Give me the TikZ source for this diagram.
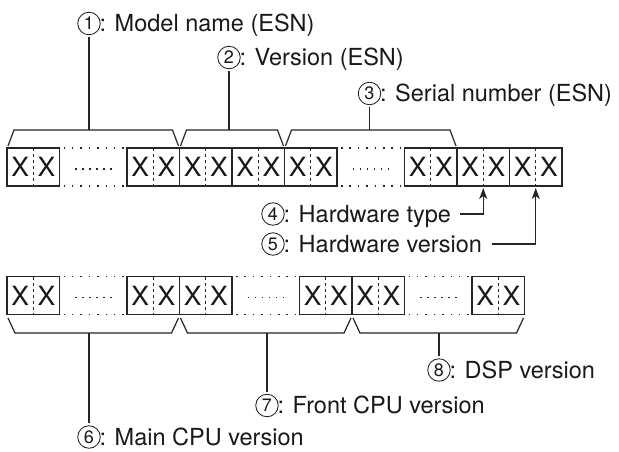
\documentclass[tikz,border=0pt]{standalone}
\usepackage{fontspec}
\setmainfont{TeX Gyre Heros}
\usetikzlibrary{arrows.meta,calc}

\definecolor{ink}{gray}{0.1}
\definecolor{linec}{gray}{0.15}

\tikzset{
  cell/.style={draw=linec, line width=1.4pt, minimum width=52.5pt, minimum height=38pt,
    inner sep=0pt, outer sep=0pt, anchor=north west},
  xch/.style={font=\fontsize{26.5}{26.5}\selectfont, text=ink, inner sep=0pt},
  half/.style={draw=linec, line width=0.9pt, dash pattern=on 3pt off 3pt},
  gapedge/.style={draw=linec, line width=1.5pt, dash pattern=on 1.5pt off 6.9pt},
  gapdots/.style={draw=linec, line width=1.5pt, dash pattern=on 1.5pt off 5.5pt},
  brace/.style={draw=linec, line width=1.2pt, line join=miter},
  stem/.style={draw=linec, line width=1.2pt},
  numc/.style={circle, draw=ink, line width=0.8pt, minimum size=22.5pt, inner sep=0pt,
    outer sep=0pt, font=\fontsize{18}{18}\selectfont, text=ink},
  lbl/.style={font=\fontsize{23.5}{23.5}\selectfont, text=ink, inner sep=0pt, anchor=base west},
  ptr/.style={draw=linec, line width=1.3pt, -{Stealth[length=11pt,width=8pt,inset=3pt]}},
}

% a two-digit cell "X:X" with its dashed divider
\newcommand\xxcell[3]{%
  \node[cell] (#1) at (#2,#3) {};
  \node[xch] (#1l) at ([xshift=-13.1pt]#1.center) {X};
  \node[xch] (#1r) at ([xshift=13.1pt]#1.center) {X};
  \draw[half] (#1.north) -- (#1.south);
}
% the elided run between two cells
\newcommand\gapcells[2]{%
  \draw[gapedge] ([xshift=4pt]#1.north east) -- (#2.north west);
  \draw[gapedge] ([xshift=4pt]#1.south east) -- (#2.south west);
  \draw[gapdots] ($(#1.east)!0.5!(#2.west)+(-18pt,-2pt)$) -- ++(37pt,0pt);
}
% brace above a run of cells
\newcommand\upbrace[3]{%
  \draw[brace] ([shift={(1pt,2pt)}]#1.north west) -- ([shift={(7pt,18pt)}]#1.north west)
    -- ([shift={(-7pt,18pt)}]#2.north east) -- ([shift={(-1pt,2pt)}]#2.north east);
  \coordinate (#3) at ([yshift=18pt]#1.north west);
}
% brace below a run of cells
\newcommand\downbrace[3]{%
  \draw[brace] ([shift={(1pt,-3.5pt)}]#1.south west) -- ([shift={(8pt,-18.5pt)}]#1.south west)
    -- ([shift={(-8pt,-18.5pt)}]#2.south east) -- ([shift={(-1pt,-3.5pt)}]#2.south east);
  \coordinate (#3) at ([yshift=-18.5pt]#1.south west);
}
% circled number followed by its caption
\newcommand\numlabel[5]{%
  \node[numc] (#1c) at (#3,#4) {#2};
  \node[lbl] (#1t) at ({#3+10.3},{#4+8.2}) {: #5};
}

\begin{document}
\begin{tikzpicture}[x=1pt,y=-1pt]
\useasboundingbox (0,0) rectangle (619,452);
\fill[white] (0,0) rectangle (619,452);

% upper row
\xxcell{a1}{7}{148}
\xxcell{a2}{127}{148}
\xxcell{a3}{179.5}{148}
\xxcell{a4}{232}{148}
\xxcell{a5}{284.5}{148}
\xxcell{a6}{404.5}{148}
\xxcell{a7}{457}{148}
\xxcell{a8}{509.5}{148}
\gapcells{a1}{a2}
\gapcells{a5}{a6}

% lower row
\xxcell{b1}{7}{276.5}
\xxcell{b2}{127}{276.5}
\xxcell{b3}{179.5}{276.5}
\xxcell{b4}{299.5}{276.5}
\xxcell{b5}{352}{276.5}
\xxcell{b6}{472}{276.5}
\gapcells{b1}{b2}
\gapcells{b3}{b4}
\gapcells{b5}{b6}

% braces
\upbrace{a1}{a2}{br1}
\upbrace{a3}{a4}{br2}
\upbrace{a5}{a6}{br3}
\downbrace{b1}{b2}{br6}
\downbrace{b3}{b4}{br7}
\downbrace{b5}{b6}{br8}

% captions
\numlabel{l1}{1}{89}{23.5}{Model name (ESN)}
\numlabel{l2}{2}{229}{57.5}{Version (ESN)}
\numlabel{l3}{3}{369.5}{93.5}{Serial number (ESN)}
\numlabel{l4}{4}{273}{214}{Hardware type}
\numlabel{l5}{5}{273}{244}{Hardware version}
\numlabel{l8}{8}{439}{370}{DSP version}
\numlabel{l7}{7}{267}{405.5}{Front CPU version}
\numlabel{l6}{6}{89}{437}{Main CPU version}

% stems from braces to captions
\draw[stem, shorten <=2.5pt] (l1c.south) -- (l1c |- br1);
\draw[stem, shorten <=2.5pt] (l2c.south) -- (l2c |- br2);
\draw[stem, shorten <=2.5pt] (l3c.south) -- (l3c |- br3);
\draw[stem, shorten <=2.5pt] (l6c.north) -- (l6c |- br6);
\draw[stem, shorten <=2.5pt] (l7c.north) -- (l7c |- br7);
\draw[stem, shorten <=2.5pt] (l8c.north) -- (l8c |- br8);

% pointers to the last two cells
\coordinate (p4) at ([xshift=9pt]l4t.east |- l4c.center);
\coordinate (p5) at ([xshift=10pt]l5t.east |- l5c.center);
\draw[ptr] (p4) -- (p4 -| a7.south) -- ([yshift=-2pt]a7.south);
\draw[ptr] (p5) -- (p5 -| a8.south) -- ([yshift=-2pt]a8.south);
\end{tikzpicture}
\end{document}
